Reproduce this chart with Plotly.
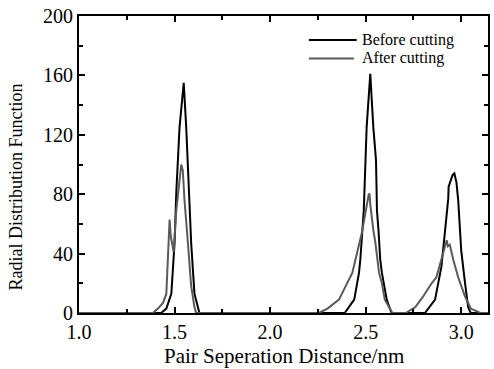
import plotly.graph_objects as go

# Before cutting (black)
before_x = [1.00, 1.43, 1.457, 1.483, 1.50, 1.509, 1.526, 1.548, 1.561, 1.575, 1.587, 1.604, 1.621, 1.63,
            2.39, 2.44, 2.465, 2.472, 2.49, 2.498, 2.505, 2.524, 2.54, 2.554, 2.559, 2.568, 2.576, 2.585, 2.61, 2.635,
            2.81, 2.863, 2.896, 2.915, 2.932, 2.934, 2.955, 2.964, 2.975, 2.984, 3.0, 3.02, 3.036, 3.05, 3.14]
before_y = [0, 0, 3, 13, 47, 81, 125, 155, 125, 81, 47, 13, 3, 0,
            0, 9, 27, 36, 69, 103, 125, 161, 125, 103, 69, 54, 36, 27, 9, 0,
            0, 9, 31, 55, 77, 85, 93, 94, 88, 76, 42, 20, 4, 0, 0]

# After cutting (gray)
after_x = [1.00, 1.387, 1.413, 1.44, 1.457, 1.466, 1.470, 1.474, 1.480, 1.488, 1.495, 1.509, 1.526, 1.535,
           1.543, 1.552, 1.57, 1.587, 1.604, 1.613,
           2.255, 2.30, 2.36, 2.43, 2.48, 2.50, 2.51, 2.516, 2.52, 2.525, 2.54, 2.55, 2.57, 2.585, 2.60, 2.64,
           2.71, 2.76, 2.80, 2.845, 2.87, 2.897, 2.924, 2.93, 2.94, 2.958, 2.984, 3.02, 3.05, 3.10, 3.14]
after_y = [0, 0, 3, 7, 13, 36, 50, 63, 52, 45, 41, 69, 92, 100,
           96, 76, 47, 18, 4, 0,
           0, 3, 9, 27, 54, 70, 77, 80, 80, 72, 56, 48, 27, 20, 9, 0,
           0, 4, 11, 20, 24, 36, 49, 45, 46, 36, 24, 11, 3, 0, 0]

x_ticks = [1.0, 1.5, 2.0, 2.5, 3.0]
y_ticks = [0, 40, 80, 120, 160, 200]
series_names = ["Before cutting", "After cutting"]
series_colors = ["#000000", "#5a5a5a"]

FONT = "Liberation Serif"

fig = go.Figure()
fig.add_trace(go.Scatter(x=before_x, y=before_y, mode="lines", name=series_names[0],
                         line=dict(color=series_colors[0], width=2)))
fig.add_trace(go.Scatter(x=after_x, y=after_y, mode="lines", name=series_names[1],
                         line=dict(color=series_colors[1], width=2)))

axis_common = dict(showline=True, linecolor="black", linewidth=2, mirror="ticks",
                   ticks="inside", ticklen=6, tickwidth=1.5, tickcolor="black",
                   showgrid=False, zeroline=False,
                   tickfont=dict(family=FONT, size=20, color="black"))

fig.update_xaxes(range=[1.0, 3.14], tickvals=x_ticks, ticktext=[f"{v:.1f}" for v in x_ticks],
                 minor=dict(tickvals=[1.25, 1.75, 2.25, 2.75], ticks="inside", ticklen=4,
                            tickcolor="black", tickwidth=1.5),
                 **axis_common)
fig.update_yaxes(range=[0, 200], tickvals=y_ticks, ticktext=[str(v) for v in y_ticks],
                 minor=dict(tickvals=[20, 60, 100, 140, 180], ticks="inside", ticklen=4,
                            tickcolor="black", tickwidth=1.5),
                 **axis_common)

# Manual legend
leg_y = [0.919, 0.857]
for name, color, yy, x1 in zip(series_names, series_colors, leg_y, [0.679, 0.672]):
    fig.add_shape(type="line", xref="paper", yref="paper", x0=0.562, x1=x1, y0=yy, y1=yy,
                  line=dict(color=color, width=2))
    fig.add_annotation(text=name, xref="paper", yref="paper", x=0.686, y=yy,
                       xanchor="left", yanchor="middle", showarrow=False,
                       font=dict(family=FONT, size=16, color="black"))

fig.add_annotation(text="Pair Seperation Distance/nm", xref="paper", yref="paper",
                   x=0.5, y=-0.145, xanchor="center", yanchor="middle", showarrow=False,
                   font=dict(family=FONT, size=21, color="black"))
fig.add_annotation(text="Radial Distribution Function", xref="paper", yref="paper",
                   x=-0.153, y=0.424, xanchor="center", yanchor="middle", showarrow=False,
                   textangle=-90, font=dict(family=FONT, size=18, color="black"))

fig.update_layout(width=494, height=369, margin=dict(l=79, r=4, t=16, b=56),
                  paper_bgcolor="white", plot_bgcolor="white", showlegend=False)

fig.write_html("out.html")
